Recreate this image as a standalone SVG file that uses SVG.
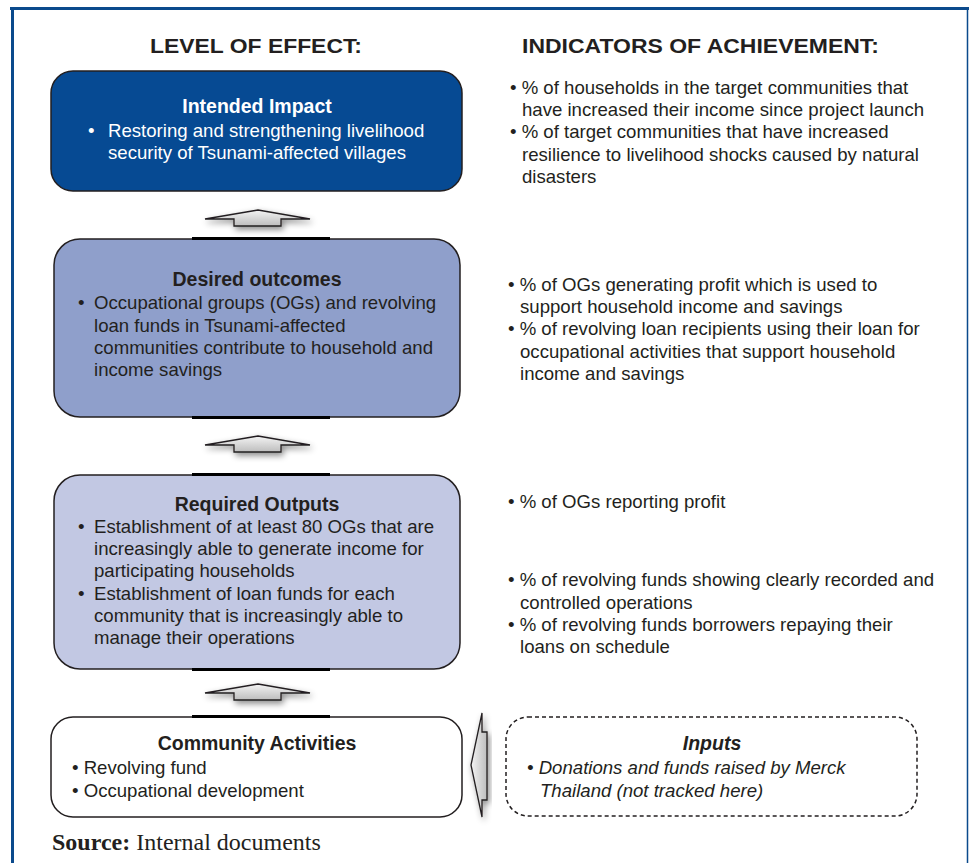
<svg xmlns="http://www.w3.org/2000/svg" width="969" height="863" viewBox="0 0 969 863">
  <defs>
    <style>
      .t { font-family: "Liberation Sans", Arial, sans-serif; font-size: 18.6px; fill: #231f20; }
      .w { fill: #ffffff; }
      .b { font-weight: bold; font-size: 19.5px; }
      .i { font-style: italic; }
      .hd { font-family: "Liberation Sans", Arial, sans-serif; font-size: 20px; font-weight: bold; fill: #231f20; }
      .box { stroke: #231f20; stroke-width: 1.5; }
      .stub { stroke: #000000; stroke-width: 3; }
      .arrow { fill: url(#arrowFill); stroke: #231f20; stroke-width: 1.3; stroke-linejoin: miter; filter: url(#soft); }
      .src { font-family: "Liberation Serif", "Times New Roman", serif; font-size: 24px; fill: #231f20; }
    </style>
    <linearGradient id="arrowFill" x1="0" y1="0" x2="0" y2="1">
      <stop offset="0" stop-color="#f4f4f4"/>
      <stop offset="1" stop-color="#bdbdbd"/>
    </linearGradient>
    <linearGradient id="arrowFillH" x1="0" y1="0" x2="1" y2="0">
      <stop offset="0" stop-color="#f4f4f4"/>
      <stop offset="1" stop-color="#bdbdbd"/>
    </linearGradient>
    <filter id="soft" x="-30%" y="-80%" width="160%" height="260%">
      <feDropShadow dx="2" dy="3" stdDeviation="3" flood-color="#000" flood-opacity="0.45"/>
    </filter>
  </defs>

  <!-- page frame -->
  <rect x="0" y="0" width="969" height="863" fill="#ffffff"/>
  <line x1="10" y1="8.5" x2="969" y2="8.5" stroke="#0b4a8c" stroke-width="3"/>
  <line x1="12.5" y1="7" x2="12.5" y2="863" stroke="#0b4a8c" stroke-width="3"/>
  <line x1="967.5" y1="9" x2="967.5" y2="863" stroke="#0b4a8c" stroke-width="1.5"/>

  <!-- column headings -->
  <text class="hd" x="150" y="53" textLength="212" lengthAdjust="spacingAndGlyphs">LEVEL OF EFFECT:</text>
  <text class="hd" x="522" y="53" textLength="357" lengthAdjust="spacingAndGlyphs">INDICATORS OF ACHIEVEMENT:</text>

  <!-- connectors -->
  <g id="connectors">
    <path class="arrow" d="M205,219 L258,210 L310,219 L281,219 L281,226 L234,226 L234,219 Z"/>
    <path class="arrow" d="M205,445 L258,436 L310,445 L281,445 L281,452 L234,452 L234,445 Z"/>
    <path class="arrow" d="M205,693 L258,684 L310,693 L281,693 L281,700 L234,700 L234,693 Z"/>
    <path class="arrow" style="fill:url(#arrowFillH)" d="M482,713 L482,732 L487,732 L487,800 L482,800 L482,817 L471,765 Z"/>
  </g>

  <!-- intended impact -->
  <g id="impact">
    <rect class="box" x="51" y="71" width="411" height="120" rx="22" fill="#064a93"/>
    <text class="t w b" x="257" y="113" text-anchor="middle">Intended Impact</text>
    <text class="t w" x="88" y="137">•</text>
    <text class="t w" x="108" y="137">Restoring and strengthening livelihood</text>
    <text class="t w" x="108" y="159">security of Tsunami-affected villages</text>
  </g>

  <!-- desired outcomes -->
  <g id="outcomes">
    <rect class="box" x="54" y="239" width="406" height="178" rx="26" fill="#8f9fcb"/>
    <line class="stub" x1="192" y1="238.5" x2="330" y2="238.5"/>
    <line class="stub" x1="192" y1="417.5" x2="330" y2="417.5"/>
    <text class="t b" x="257" y="286" text-anchor="middle">Desired outcomes</text>
    <text class="t" x="78" y="309">•</text>
    <text class="t" x="94" y="309">Occupational groups (OGs) and revolving</text>
    <text class="t" x="94" y="332">loan funds in Tsunami-affected</text>
    <text class="t" x="94" y="354">communities contribute to household and</text>
    <text class="t" x="94" y="376">income savings</text>
  </g>

  <!-- required outputs -->
  <g id="outputs">
    <rect class="box" x="54" y="475" width="406" height="194" rx="26" fill="#c2c8e3"/>
    <line class="stub" x1="192" y1="474.5" x2="330" y2="474.5"/>
    <line class="stub" x1="192" y1="669.5" x2="330" y2="669.5"/>
    <text class="t b" x="257" y="511" text-anchor="middle">Required Outputs</text>
    <text class="t" x="78" y="533">•</text>
    <text class="t" x="94" y="533">Establishment of at least 80 OGs that are</text>
    <text class="t" x="94" y="555">increasingly able to generate income for</text>
    <text class="t" x="94" y="577">participating households</text>
    <text class="t" x="78" y="600">•</text>
    <text class="t" x="94" y="600">Establishment of loan funds for each</text>
    <text class="t" x="94" y="622">community that is increasingly able to</text>
    <text class="t" x="94" y="644">manage their operations</text>
  </g>

  <!-- community activities -->
  <g id="activities">
    <rect class="box" x="51" y="717" width="411" height="100" rx="22" fill="#ffffff"/>
    <line class="stub" x1="192" y1="716.5" x2="330" y2="716.5"/>
    <text class="t b" x="257" y="750" text-anchor="middle">Community Activities</text>
    <text class="t" x="72" y="774">• Revolving fund</text>
    <text class="t" x="72" y="797">• Occupational development</text>
  </g>

  <!-- inputs -->
  <g id="inputs">
    <rect x="506" y="717" width="411" height="99" rx="22" fill="none" stroke="#231f20" stroke-width="1.5" stroke-dasharray="4,3"/>
    <text class="t b i" x="712" y="750" text-anchor="middle" font-size="19px">Inputs</text>
    <text class="t i" x="527" y="774">• Donations and funds raised by Merck</text>
    <text class="t i" x="540" y="797">Thailand (not tracked here)</text>
  </g>

  <!-- indicators -->
  <g id="indicators-impact">
    <text class="t" x="510" y="94">• % of households in the target communities that</text>
    <text class="t" x="522" y="116">have increased their income since project launch</text>
    <text class="t" x="510" y="138">• % of target communities that have increased</text>
    <text class="t" x="522" y="161">resilience to livelihood shocks caused by natural</text>
    <text class="t" x="522" y="183">disasters</text>
  </g>
  <g id="indicators-outcomes">
    <text class="t" x="508" y="291">• % of OGs generating profit which is used to</text>
    <text class="t" x="520" y="313">support household income and savings</text>
    <text class="t" x="508" y="335">• % of revolving loan recipients using their loan for</text>
    <text class="t" x="520" y="358">occupational activities that support household</text>
    <text class="t" x="520" y="380">income and savings</text>
  </g>
  <g id="indicators-outputs">
    <text class="t" x="508" y="508">• % of OGs reporting profit</text>
    <text class="t" x="508" y="586">• % of revolving funds showing clearly recorded and</text>
    <text class="t" x="520" y="609">controlled operations</text>
    <text class="t" x="508" y="631">• % of revolving funds borrowers repaying their</text>
    <text class="t" x="520" y="653">loans on schedule</text>
  </g>

  <!-- source note -->
  <text class="src" x="52" y="850"><tspan font-weight="bold">Source:</tspan> Internal documents</text>
</svg>
